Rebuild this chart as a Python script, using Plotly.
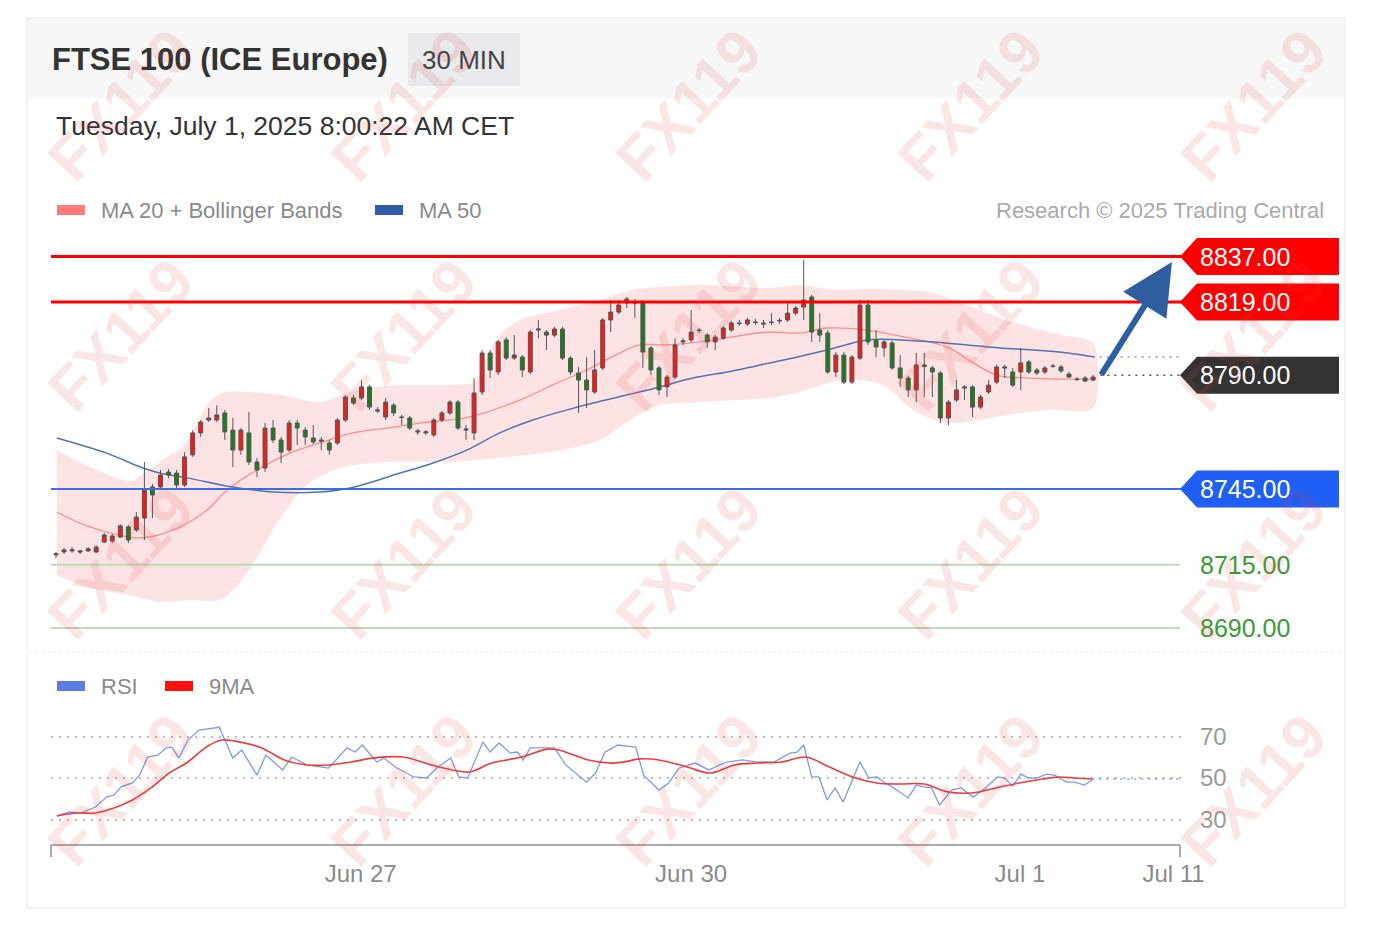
import plotly.graph_objects as go

W, H = 1378, 930

# ---------------- DATA ----------------
opens = [8718.9, 8720.1, 8720.5, 8720.5, 8720.5, 8720.1, 8724.0, 8724.4, 8726.0, 8730.0,
         8728.8, 8733.5, 8745.8, 8745.8, 8751.7, 8751.3, 8746.6, 8758.5, 8767.2, 8772.3,
         8772.3, 8775.1, 8768.3, 8760.4, 8767.2, 8755.7, 8753.3, 8769.1, 8764.4, 8760.4,
         8771.1, 8768.3, 8765.2, 8764.4, 8763.2, 8763.2, 8772.3, 8781.0, 8781.0, 8785.4,
         8776.3, 8773.5, 8778.2, 8773.5, 8773.1, 8768.0, 8767.2, 8766.4, 8772.3, 8775.1,
         8779.4, 8768.3, 8767.2, 8783.4, 8798.8, 8791.3, 8804.0, 8796.8, 8797.2, 8791.3,
         8807.9, 8807.1, 8805.9, 8808.3, 8796.8, 8790.9, 8788.1, 8783.4, 8792.9, 8811.9,
         8815.0, 8818.6, 8819.0, 8818.6, 8800.8, 8792.9, 8785.4, 8789.3, 8803.2, 8804.0,
         8807.9, 8805.9, 8803.2, 8804.7, 8807.9, 8810.7, 8810.3, 8811.1, 8810.7, 8811.1,
         8811.5, 8811.9, 8814.6, 8817.0, 8821.0, 8807.9, 8806.7, 8791.3, 8798.0, 8787.3,
         8796.8, 8817.8, 8804.0, 8800.8, 8802.8, 8792.9, 8788.9, 8784.2, 8794.1, 8792.9,
         8790.9, 8773.1, 8780.2, 8785.4, 8785.4, 8777.4, 8783.4, 8787.3, 8793.3, 8791.3,
         8791.3, 8795.3, 8792.1, 8791.3, 8793.7, 8793.3, 8790.5, 8788.5, 8788.9, 8788.1]
highs = [8720.1, 8721.7, 8722.0, 8720.9, 8722.0, 8722.8, 8727.6, 8727.2, 8731.1, 8730.8,
         8735.9, 8755.7, 8747.0, 8752.5, 8752.9, 8752.5, 8759.6, 8768.3, 8772.3, 8777.0,
         8778.2, 8776.3, 8773.1, 8769.1, 8775.5, 8757.3, 8771.1, 8772.3, 8765.6, 8772.3,
         8772.3, 8769.5, 8770.3, 8765.6, 8764.4, 8773.1, 8782.2, 8782.2, 8788.1, 8786.1,
         8777.4, 8781.0, 8779.0, 8774.3, 8773.9, 8768.8, 8768.3, 8773.1, 8775.9, 8780.2,
         8780.2, 8770.3, 8788.9, 8800.0, 8800.0, 8804.0, 8805.1, 8805.9, 8798.0, 8807.9,
         8811.9, 8807.9, 8809.1, 8809.1, 8797.6, 8793.3, 8797.2, 8800.0, 8812.7, 8819.8,
         8819.8, 8821.0, 8820.2, 8819.8, 8801.6, 8793.7, 8790.1, 8804.7, 8804.7, 8815.8,
         8808.7, 8806.7, 8805.9, 8809.5, 8811.5, 8811.9, 8812.7, 8812.3, 8811.9, 8814.6,
         8812.7, 8819.0, 8817.4, 8835.6, 8821.8, 8814.6, 8807.9, 8799.2, 8799.2, 8798.0,
         8819.8, 8819.8, 8807.9, 8804.0, 8803.6, 8798.0, 8789.7, 8798.8, 8798.8, 8793.7,
         8791.7, 8780.2, 8788.1, 8786.1, 8786.1, 8782.2, 8788.1, 8794.1, 8794.1, 8792.9,
         8800.8, 8796.0, 8792.9, 8793.7, 8794.5, 8794.1, 8791.3, 8789.3, 8789.7, 8790.1]
lows = [8717.7, 8719.3, 8719.7, 8719.3, 8720.1, 8719.7, 8723.6, 8723.6, 8725.6, 8723.6,
        8728.0, 8724.8, 8733.5, 8744.6, 8749.3, 8745.4, 8745.8, 8757.7, 8765.6, 8771.5,
        8771.5, 8764.4, 8753.7, 8758.5, 8754.5, 8749.7, 8751.7, 8763.2, 8755.3, 8759.6,
        8762.4, 8762.4, 8762.8, 8760.4, 8758.5, 8762.4, 8771.5, 8778.2, 8780.2, 8776.3,
        8775.1, 8772.3, 8773.9, 8770.3, 8768.3, 8766.4, 8766.4, 8765.6, 8771.5, 8774.3,
        8768.3, 8764.4, 8764.4, 8782.2, 8788.9, 8790.1, 8796.0, 8796.0, 8789.3, 8790.5,
        8804.7, 8800.0, 8805.1, 8796.0, 8790.1, 8775.1, 8777.0, 8782.6, 8792.1, 8807.1,
        8814.2, 8816.6, 8812.7, 8792.9, 8790.1, 8782.2, 8781.4, 8788.5, 8802.0, 8803.2,
        8806.7, 8800.8, 8800.0, 8804.0, 8807.1, 8809.5, 8809.5, 8809.9, 8808.7, 8809.9,
        8810.3, 8811.1, 8813.8, 8811.9, 8803.2, 8803.2, 8790.5, 8789.3, 8786.5, 8786.5,
        8796.0, 8802.0, 8797.2, 8797.2, 8792.1, 8785.4, 8781.4, 8779.4, 8781.4, 8781.4,
        8771.1, 8770.3, 8779.4, 8780.2, 8773.5, 8776.7, 8782.6, 8786.5, 8788.9, 8785.4,
        8784.2, 8790.5, 8790.1, 8790.5, 8792.9, 8790.9, 8788.9, 8787.7, 8787.3, 8787.7]
closes = [8719.3, 8720.9, 8720.9, 8720.1, 8721.3, 8722.0, 8726.8, 8726.4, 8730.4, 8724.8,
          8733.9, 8744.6, 8742.6, 8750.5, 8750.5, 8746.6, 8757.7, 8767.2, 8771.5, 8773.1,
          8774.3, 8767.6, 8760.4, 8768.3, 8755.7, 8752.5, 8769.1, 8764.4, 8759.6, 8771.1,
          8769.1, 8765.6, 8763.6, 8764.0, 8760.4, 8772.3, 8781.4, 8779.0, 8785.4, 8777.4,
          8775.9, 8779.4, 8775.1, 8773.3, 8769.1, 8767.6, 8767.6, 8772.3, 8775.1, 8779.4,
          8769.1, 8768.7, 8783.0, 8798.8, 8792.1, 8803.2, 8796.8, 8798.0, 8792.1, 8807.1,
          8808.3, 8805.9, 8808.3, 8796.8, 8791.3, 8788.1, 8784.2, 8792.1, 8811.9, 8815.0,
          8817.8, 8820.2, 8818.6, 8799.2, 8792.1, 8784.2, 8789.3, 8802.0, 8803.6, 8807.1,
          8807.7, 8803.2, 8805.1, 8808.7, 8810.7, 8810.5, 8811.9, 8810.9, 8810.3, 8810.9,
          8811.7, 8814.6, 8816.6, 8819.8, 8807.1, 8805.9, 8791.3, 8798.0, 8787.3, 8797.2,
          8817.8, 8803.2, 8801.2, 8803.2, 8792.9, 8788.9, 8784.2, 8794.1, 8793.5, 8791.3,
          8773.1, 8779.4, 8784.2, 8785.0, 8777.4, 8781.4, 8786.1, 8793.3, 8792.9, 8786.1,
          8794.9, 8791.3, 8790.9, 8792.9, 8793.5, 8791.7, 8789.3, 8788.3, 8787.7, 8789.3]
bars = list(range(len(closes)))

ma20_x = [0.1, 4.2, 10.4, 14.6, 18.8, 21.3, 25.0, 29.1, 32.8, 36.9, 41.2, 45.3, 51.5, 57.7,
          61.8, 66.0, 70.1, 72.6, 76.0, 80.1, 84.2, 88.4, 92.5, 95.9, 100.9, 105.0, 110.8,
          114.1, 117.0, 121.1, 124.9, 129.0]
ma20_y = [8735.9, 8730.0, 8725.6, 8728.8, 8736.7, 8744.6, 8752.5, 8759.2, 8763.2, 8767.2,
          8769.1, 8771.1, 8773.5, 8780.2, 8786.2, 8792.1, 8798.8, 8802.0, 8802.0, 8803.2,
          8805.2, 8807.1, 8806.7, 8808.7, 8807.9, 8805.5, 8801.2, 8794.9, 8790.1, 8788.9,
          8788.5, 8788.5]

ma50_x = [0.1, 6.3, 10.5, 12.9, 16.3, 22.0, 27.0, 32.8, 36.6, 42.8, 46.9, 51.1, 55.2, 59.3,
          63.6, 66.8, 71.0, 75.1, 79.2, 83.5, 87.6, 91.7, 95.9, 100.9, 105.0, 109.1, 113.3,
          117.4, 121.5, 125.8, 129.2]
ma50_y = [8765.2, 8759.2, 8753.7, 8751.3, 8749.4, 8745.8, 8743.8, 8743.8, 8745.4, 8751.3,
          8755.3, 8760.4, 8767.2, 8772.3, 8776.3, 8779.0, 8782.2, 8785.4, 8788.9, 8791.3,
          8794.1, 8796.8, 8800.0, 8804.0, 8804.0, 8803.2, 8802.0, 8800.8, 8800.0, 8798.8,
          8797.2]

bb_up_x = [0.1, 4.2, 9.2, 11.2, 13.6, 15.8, 17.3, 18.8, 20.6, 24.1, 27.9, 32.8, 36.9, 41.2,
           49.4, 52.1, 53.4, 55.2, 57.7, 61.4, 67.7, 71.8, 80.1, 88.4, 92.5, 96.6, 100.9,
           105.0, 109.1, 113.3, 117.4, 121.5, 125.7, 129.0]
bb_up_y = [8760.4, 8753.7, 8748.2, 8751.7, 8757.3, 8761.6, 8769.1, 8778.2, 8783.0, 8783.4,
           8782.2, 8779.4, 8783.8, 8785.8, 8786.2, 8787.4, 8796.0, 8805.9, 8811.9, 8815.0,
           8819.8, 8823.8, 8825.7, 8824.5, 8825.7, 8823.8, 8824.1, 8823.8, 8822.6, 8817.8,
           8812.7, 8808.7, 8805.5, 8802.8]
bb_lo_x = [0.1, 4.2, 9.2, 12.9, 16.7, 20.4, 22.9, 25.4, 27.9, 31.2, 35.3, 41.2, 49.4, 55.2,
           61.4, 67.7, 71.4, 75.1, 80.1, 88.4, 92.5, 96.6, 100.0, 103.1, 106.6, 110.8, 114.9,
           119.0, 123.3, 129.0]
bb_lo_y = [8711.0, 8705.8, 8703.0, 8700.3, 8701.1, 8701.1, 8708.2, 8720.1, 8733.5, 8746.6,
           8753.3, 8755.7, 8755.7, 8757.3, 8759.6, 8764.4, 8772.3, 8778.2, 8779.4, 8781.0,
           8783.4, 8787.4, 8788.1, 8785.8, 8776.3, 8771.1, 8772.3, 8774.7, 8776.3, 8777.1]

rsi_x = [0.1, 1.7, 3.1, 4.9, 6.3, 7.2, 8.1, 9.5, 10.4, 11.4, 12.7, 13.7, 14.4, 15.3, 16.4,
         17.8, 19.7, 20.3, 22.0, 23.1, 25.0, 26.1, 28.2, 29.3, 31.2, 33.9, 36.2, 37.2, 38.1,
         39.9, 40.8, 42.2, 44.5, 46.1, 47.5, 49.1, 50.1, 51.2, 53.1, 54.0, 55.1, 56.5, 57.4,
         58.1, 59.0, 60.7, 62.0, 63.4, 66.0, 67.1, 68.3, 69.9, 72.1, 73.1, 75.0, 76.2, 77.5,
         79.5, 81.2, 83.4, 85.4, 87.3, 89.3, 91.3, 92.2, 93.0, 94.0, 94.9, 95.9, 96.9, 97.9,
         98.9, 100.0, 101.1, 102.1, 103.1, 104.0, 106.0, 107.0, 108.0, 108.9, 109.9, 111.4,
         112.6, 114.1, 115.6, 117.1, 118.0, 119.0, 120.0, 121.0, 122.0, 123.2, 124.2, 125.7,
         126.7, 127.9, 128.9]
rsi_y = [31.7, 33.6, 33.1, 36.0, 40.8, 41.8, 45.7, 47.6, 51.4, 60.1, 61.1, 64.5, 64.9, 59.6,
         68.3, 73.1, 74.1, 74.6, 59.6, 63.5, 51.4, 61.1, 53.9, 60.1, 56.3, 54.8, 64.5, 62.5,
         65.9, 57.7, 59.6, 55.3, 50.5, 50.0, 55.3, 59.6, 50.5, 50.0, 67.3, 62.5, 66.9, 62.0,
         62.5, 58.7, 64.5, 64.5, 64.5, 56.3, 48.0, 52.4, 62.5, 65.9, 64.9, 51.4, 44.2, 47.6,
         54.8, 57.2, 53.9, 57.7, 58.7, 57.7, 57.7, 62.0, 62.5, 65.9, 50.5, 50.5, 39.4, 45.2,
         38.4, 47.6, 57.7, 50.0, 50.5, 47.6, 45.7, 40.4, 46.6, 45.7, 45.2, 37.0, 44.2, 45.2,
         40.8, 45.2, 50.5, 50.0, 46.1, 51.9, 50.0, 50.0, 51.9, 51.4, 48.0, 48.0, 46.6, 49.0]
ma9_x = [0.1, 2.6, 4.9, 7.2, 9.5, 11.8, 14.1, 16.4, 18.7, 20.6, 22.9, 25.6, 28.4, 31.2, 34.0,
         36.7, 39.4, 43.2, 45.9, 48.2, 51.4, 54.2, 57.9, 61.1, 62.5, 66.2, 68.9, 70.6, 72.6,
         75.0, 78.5, 81.4, 84.4, 87.3, 90.3, 93.2, 96.2, 99.1, 102.1, 105.0, 108.0, 110.9,
         113.9, 116.9, 119.8, 122.7, 124.7, 126.7, 128.9]
ma9_y = [31.7, 33.1, 33.1, 35.5, 39.4, 45.2, 52.4, 57.7, 64.9, 68.3, 67.3, 64.5, 58.7, 56.3,
         56.3, 57.7, 59.6, 60.1, 57.2, 54.8, 52.9, 57.2, 60.1, 63.9, 63.5, 58.7, 57.2, 57.7,
         59.2, 58.7, 55.3, 52.4, 56.3, 57.2, 57.7, 60.1, 55.3, 50.5, 47.6, 47.1, 47.1, 43.3,
         42.8, 45.2, 47.6, 49.5, 50.5, 50.0, 49.5]

rsi_levels = [30, 50, 70]
tick_pos = [37.9, 79.0, 119.9, 139.0]
tick_text = ["Jun 27", "Jun 30", "Jul 1", "Jul 11"]

resistance = [8837.0, 8819.0]
pivot = 8790.0
support1 = 8745.0
support_green = [8715.0, 8690.0]
last_ma50 = 8797.2
rsi_last = 49.5
arrow_from = (129.9, 8789.7)
arrow_to = (138.8, 8834.8)

# ---------------- LAYOUT HELPERS ----------------
def px(x):
    return x / W

def py(y):
    return 1 - y / H

X_RANGE = [-0.62, 139.93]
X_DOM = [px(51), px(1181)]
Y1_DOM = [py(650), py(230)]
Y1_RANGE = [8681.28, 8847.49]
Y2_DOM = [py(845), py(700)]
Y2_RANGE = [17.71, 87.59]

FONT = "'Liberation Sans', Arial, Helvetica, sans-serif"

fig = go.Figure()

# Bollinger band + moving averages on the base price subplot
fig.add_trace(go.Scatter(
    x=bb_up_x + bb_lo_x[::-1], y=bb_up_y + bb_lo_y[::-1],
    fill="toself", fillcolor="#fde3e3", mode="lines",
    line=dict(width=0, shape="spline", smoothing=0.8, color="#fde3e3"),
    hoverinfo="skip", xaxis="x", yaxis="y"))
fig.add_trace(go.Scatter(x=ma20_x, y=ma20_y, mode="lines",
                         line=dict(color="#ff8c8c", width=1.3, shape="spline"),
                         xaxis="x", yaxis="y", hoverinfo="skip"))
fig.add_trace(go.Scatter(x=ma50_x, y=ma50_y, mode="lines",
                         line=dict(color="#4f75b5", width=1.5, shape="spline"),
                         xaxis="x", yaxis="y", hoverinfo="skip"))
# candles on an overlaying axis so they are drawn above the band
fig.add_trace(go.Candlestick(
    x=bars, open=opens, high=highs, low=lows, close=closes,
    increasing=dict(fillcolor="#ee1c1c", line=dict(color="#555555", width=1)),
    decreasing=dict(fillcolor="#1f7a22", line=dict(color="#555555", width=1)),
    whiskerwidth=0, xaxis="x", yaxis="y3", hoverinfo="skip"))

# RSI
fig.add_trace(go.Scatter(x=rsi_x, y=rsi_y, mode="lines",
                         line=dict(color="#7d9be8", width=1.3),
                         xaxis="x2", yaxis="y2", hoverinfo="skip"))
fig.add_trace(go.Scatter(x=ma9_x, y=ma9_y, mode="lines",
                         line=dict(color="#f23a3a", width=1.6, shape="spline"),
                         xaxis="x2", yaxis="y2", hoverinfo="skip"))
fig.add_trace(go.Scatter(x=[rsi_x[-1], X_RANGE[1]], y=[rsi_last, rsi_last], mode="lines",
                         line=dict(color="#7d9be8", width=1.5, dash="2px,5px"),
                         xaxis="x2", yaxis="y2", hoverinfo="skip"))

shapes = []
annotations = []

# card & header
shapes.append(dict(type="rect", xref="paper", yref="paper", x0=px(27), x1=px(1345),
                   y0=py(908), y1=py(18), line=dict(color="#e6e6e6", width=1),
                   fillcolor="rgba(0,0,0,0)", layer="below"))
shapes.append(dict(type="rect", xref="paper", yref="paper", x0=px(28), x1=px(1344),
                   y0=py(98), y1=py(19), line=dict(width=0), fillcolor="#f7f7f7",
                   layer="below"))
shapes.append(dict(type="rect", xref="paper", yref="paper", x0=px(408), x1=px(520),
                   y0=py(86), y1=py(33), line=dict(width=0), fillcolor="#e8eaed",
                   layer="below"))
# separator
shapes.append(dict(type="line", xref="paper", yref="paper", x0=px(30), x1=px(1343),
                   y0=py(652), y1=py(652), line=dict(color="#e4e4e4", width=1, dash="2px,4px")))

# level lines
for v in resistance:
    shapes.append(dict(type="line", xref="paper", yref="y", x0=px(51), x1=px(1183),
                       y0=v, y1=v, line=dict(color="#ff0000", width=3)))
shapes.append(dict(type="line", xref="paper", yref="y", x0=px(51), x1=px(1183),
                   y0=support1, y1=support1, line=dict(color="#3a6de6", width=2)))
for v in support_green:
    shapes.append(dict(type="line", xref="paper", yref="y", x0=px(51), x1=px(1180),
                       y0=v, y1=v, line=dict(color="#bcdcb6", width=2)))
# dotted continuations
shapes.append(dict(type="line", xref="x", yref="y", x0=arrow_from[0], x1=X_RANGE[1],
                   y0=pivot, y1=pivot, line=dict(color="#555555", width=1.5, dash="2px,5px")))
shapes.append(dict(type="line", xref="x", yref="y", x0=ma50_x[-1] + 0.6, x1=X_RANGE[1],
                   y0=last_ma50, y1=last_ma50, line=dict(color="#7e9bd0", width=1.5, dash="2px,5px")))

# price tags
HALF = 7.3
tags = [(resistance[0], "#ff0000"), (resistance[1], "#ff0000"), (pivot, "#333333"),
        (support1, "#1f5ff5")]
for v, col in tags:
    path = (f"M {px(1180)},{v} L {px(1197)},{v + HALF} L {px(1339)},{v + HALF} "
            f"L {px(1339)},{v - HALF} L {px(1197)},{v - HALF} Z")
    shapes.append(dict(type="path", xref="paper", yref="y", path=path,
                       fillcolor=col, line=dict(width=0)))
    annotations.append(dict(xref="paper", yref="y", x=px(1198), y=v, text=f"{v:.2f}",
                            showarrow=False, xanchor="left", yanchor="middle",
                            font=dict(family=FONT, size=25, color="white")))
for v in support_green:
    annotations.append(dict(xref="paper", yref="y", x=px(1198), y=v, text=f"{v:.2f}",
                            showarrow=False, xanchor="left", yanchor="middle",
                            font=dict(family=FONT, size=25, color="#3b9a34")))

# arrow
annotations.append(dict(xref="x", yref="y", axref="x", ayref="y",
                        x=arrow_to[0], y=arrow_to[1], ax=arrow_from[0], ay=arrow_from[1],
                        text="", showarrow=True, arrowhead=2, arrowsize=1.7,
                        arrowwidth=6, arrowcolor="#2d5fa0"))

# RSI x-axis line
shapes.append(dict(type="line", xref="paper", yref="paper", x0=px(51), x1=px(1180),
                   y0=py(845), y1=py(845), line=dict(color="#aaaaaa", width=2)))
for xx in (51, 1180):
    shapes.append(dict(type="line", xref="paper", yref="paper", x0=px(xx), x1=px(xx),
                       y0=py(845), y1=py(857), line=dict(color="#aaaaaa", width=2)))

# header texts
annotations.append(dict(xref="paper", yref="paper", x=px(50), y=py(60),
                        text="<b>FTSE 100 (ICE Europe)</b>", showarrow=False,
                        xanchor="left", yanchor="middle",
                        font=dict(family=FONT, size=31, color="#333333")))
annotations.append(dict(xref="paper", yref="paper", x=px(464), y=py(60), text="30 MIN",
                        showarrow=False, xanchor="center", yanchor="middle",
                        font=dict(family=FONT, size=26, color="#444444")))
annotations.append(dict(xref="paper", yref="paper", x=px(54), y=py(126),
                        text="Tuesday, July 1, 2025 8:00:22 AM CET", showarrow=False,
                        xanchor="left", yanchor="middle",
                        font=dict(family=FONT, size=26.5, color="#333333")))

# legends
def legend_item(x_sw, y, color, label):
    shapes.append(dict(type="rect", xref="paper", yref="paper", x0=px(x_sw), x1=px(x_sw + 28),
                       y0=py(y + 5), y1=py(y - 5), fillcolor=color, line=dict(width=0)))
    annotations.append(dict(xref="paper", yref="paper", x=px(x_sw + 42), y=py(y), text=label,
                            showarrow=False, xanchor="left", yanchor="middle",
                            font=dict(family=FONT, size=22, color="#8a8a8a")))

legend_item(57, 210, "#ff7b7b", "MA 20 + Bollinger Bands")
legend_item(375, 210, "#2e5ea8", "MA 50")
legend_item(57, 686, "#5b7ee5", "RSI")
legend_item(165, 686, "#ff1010", "9MA")
annotations.append(dict(xref="paper", yref="paper", x=px(1326), y=py(210),
                        text="Research © 2025 Trading Central", showarrow=False,
                        xanchor="right", yanchor="middle",
                        font=dict(family=FONT, size=22, color="#aaaaaa")))

# watermarks
for cx in (120, 403, 688, 970, 1253):
    for cy in (105, 335, 563, 790):
        annotations.append(dict(xref="paper", yref="paper", x=px(cx), y=py(cy),
                                text="<b>FX119</b>", showarrow=False, textangle=-47,
                                xanchor="center", yanchor="middle",
                                font=dict(family=FONT, size=62, color="rgba(225,60,60,0.13)")))

fig.update_layout(
    width=W, height=H, autosize=False,
    margin=dict(l=0, r=0, t=0, b=0, pad=0, autoexpand=False),
    paper_bgcolor="white", plot_bgcolor="rgba(0,0,0,0)",
    showlegend=False, font=dict(family=FONT),
    xaxis=dict(domain=X_DOM, range=X_RANGE, anchor="y", visible=False,
               rangeslider=dict(visible=False), fixedrange=True),
    yaxis=dict(domain=Y1_DOM, range=Y1_RANGE, anchor="x", visible=False, fixedrange=True),
    yaxis3=dict(range=Y1_RANGE, overlaying="y", anchor="x", visible=False, fixedrange=True),
    xaxis2=dict(domain=X_DOM, range=X_RANGE, anchor="y2", showgrid=False, zeroline=False,
                showline=False, ticks="", tickvals=tick_pos, ticktext=tick_text,
                tickfont=dict(family=FONT, size=24, color="#8a8a8a"),
                ticklabelstandoff=12, fixedrange=True, automargin=False),
    yaxis2=dict(domain=Y2_DOM, range=Y2_RANGE, anchor="x2", side="right",
                tickvals=rsi_levels, ticktext=[str(v) for v in rsi_levels],
                showgrid=True, gridcolor="#bdbdbd", griddash="2px,6px", gridwidth=1.5,
                zeroline=False, showline=False, ticks="",
                tickfont=dict(family=FONT, size=24, color="#9a9a9a"),
                ticklabelstandoff=18, fixedrange=True, automargin=False),
    shapes=shapes, annotations=annotations,
)

fig.write_html("out.html", config={"displayModeBar": False, "responsive": False},
               post_script="document.body.style.margin='0';document.body.style.overflow='hidden';")
